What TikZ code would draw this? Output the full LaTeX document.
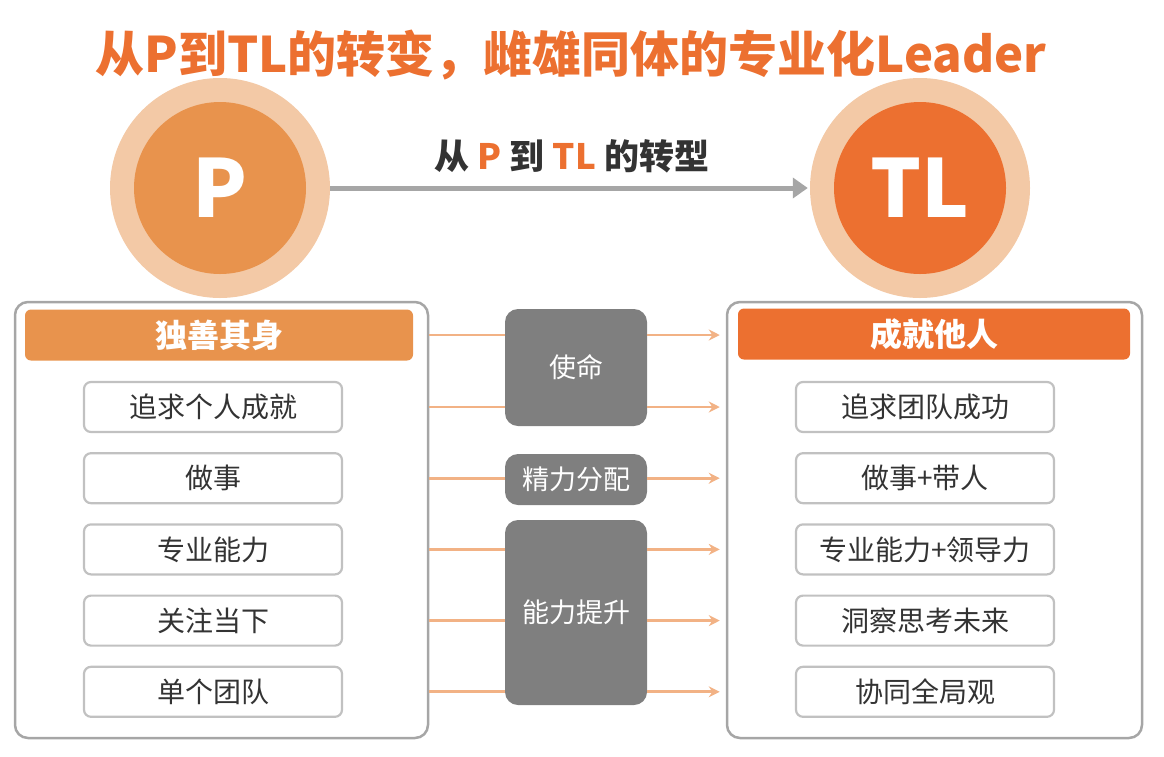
\documentclass[tikz,border=0pt]{standalone}
\usepackage{fontspec}
\setmainfont{Noto Sans CJK SC}
\usepackage{xcolor}
\usetikzlibrary{positioning,arrows.meta}

\definecolor{hot}{HTML}{EC7030}
\definecolor{warm}{HTML}{E8934D}
\definecolor{ring}{HTML}{F3C9A6}
\definecolor{linkc}{HTML}{F2B285}
\definecolor{midgray}{HTML}{7F7F7F}
\definecolor{frame}{HTML}{A6A6A6}
\definecolor{ink}{HTML}{333333}

\begin{document}
\begin{tikzpicture}[
      x=1pt, y=-1pt,
      node distance=19pt,
      panel/.style={draw=frame, line width=2.5pt, rounded corners=13pt,
                    minimum height=436pt},
      head/.style={rounded corners=6pt, minimum height=51pt, text=white,
                   font=\fontsize{32}{34}\selectfont\bfseries},
      item/.style={draw=frame!70, line width=2.2pt, rounded corners=7pt,
                   minimum width=258pt, minimum height=50pt, text=ink,
                   font=\fontsize{28}{30}\selectfont},
      midbox/.style={fill=midgray, rounded corners=13pt, minimum width=142pt,
                     text=white, font=\fontsize{27}{30}\selectfont},
      link/.style={draw=linkc, line width=2.8pt},
      arr/.style={link, -{Stealth[length=11pt,width=11pt]}, shorten >=6pt},
      bigarr/.style={draw=frame, line width=5pt, -{Triangle[length=15pt,width=20pt]}, shorten >=2pt}
    ]
    \useasboundingbox (0,0) rectangle (1164,756);

    % title
    \node[text=hot, font=\fontsize{49}{52}\selectfont\bfseries] (title) at (571,55)
      {从P到TL的转变，雌雄同体的专业化Leader};

    % circles
    \node[circle, fill=ring, minimum size=220pt] (pring)  at (220,188) {};
    \node[circle, fill=warm, minimum size=172pt, text=white,
          font=\fontsize{80}{80}\selectfont\bfseries] (pcore) at (220,188) {P};
    \node[circle, fill=ring, minimum size=220pt] (tlring) at (920,188) {};
    \node[circle, fill=hot, minimum size=172pt, text=white,
          font=\fontsize{80}{80}\selectfont\bfseries] (tlcore) at (920,188) {TL};

    \draw[bigarr] (pring) -- (tlring);
    \node[text=ink, font=\fontsize{35}{37}\selectfont\bfseries] (shift) at (572,156)
      {从 \textcolor{hot}{P} 到 \textcolor{hot}{TL} 的转型};

    % left panel
    \node[panel, minimum width=413pt] (lpanel) at (221.5,520) {};
    \node[head, fill=warm, minimum width=388pt] (lhead) at (219,335) {独善其身};
    \node[item] (l1) at (213,407) {追求个人成就};
    \node[item, below=of l1] (l2) {做事};
    \node[item, below=of l2] (l3) {专业能力};
    \node[item, below=of l3] (l4) {关注当下};
    \node[item, below=of l4] (l5) {单个团队};

    % right panel
    \node[panel, minimum width=415pt] (rpanel) at (934.5,520) {};
    \node[head, fill=hot, minimum width=392pt] (rhead) at (934,334) {成就他人};
    \node[item] (r1) at (925,407) {追求团队成功};
    \node[item, below=of r1] (r2) {做事+带人};
    \node[item, below=of r2] (r3) {专业能力+领导力};
    \node[item, below=of r3] (r4) {洞察思考未来};
    \node[item, below=of r4] (r5) {协同全局观};

    % middle
    \node[midbox, minimum height=117pt] (mission) at (576,367.5) {使命};
    \node[midbox, minimum height=51pt]  (energy)  at (576,479.5) {精力分配};
    \node[midbox, minimum height=185pt] (skill)   at (576,612.5) {能力提升};

    \foreach \row/\mid in {lhead/mission, l1/mission, l2/energy, l3/skill, l4/skill, l5/skill}{
      \draw[link] (lpanel.east |- \row) -- (\mid.west |- \row);
      \draw[arr]  (\mid.east |- \row) -- (rpanel.west |- \row);
    }
  \end{tikzpicture}
\end{document}
